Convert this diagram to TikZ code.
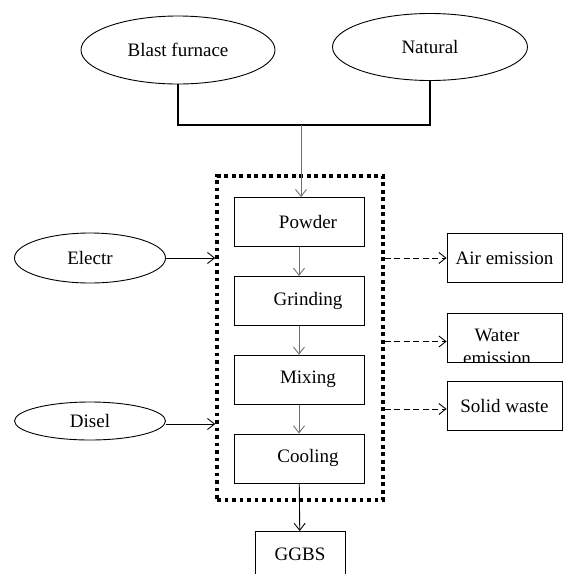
\documentclass[tikz,border=0pt]{standalone}
\usepackage{fontspec}
\setmainfont{Liberation Serif}
\usepackage{tikz}
\usetikzlibrary{shapes,arrows,arrows.meta,positioning,calc}
\definecolor{linkgray}{RGB}{110,110,110}
\begin{document}
\begin{tikzpicture}[x=1pt,y=-1pt,font=\fontsize{19}{23}\selectfont,node distance=29pt,
src/.style={draw,ellipse,inner sep=0pt,line width=0.9pt},
procbox/.style={draw,line width=0.8pt,minimum width=130pt,minimum height=49pt,inner sep=0pt,execute at begin node={\hspace*{18pt}}},
outbox/.style={draw,line width=0.8pt,minimum width=115pt,minimum height=49pt,inner sep=0pt},
frame/.style={draw,line width=3.6pt,dash pattern=on 3.6pt off 3.9pt,inner sep=0pt,minimum width=166pt,minimum height=324pt},
feed/.style={line width=1.8pt},
arr/.style={-{Straight Barb[length=7pt,width=11pt]},line width=0.9pt},
garr/.style={arr,draw=linkgray},
darr/.style={arr,dash pattern=on 6pt off 3.5pt}]
\useasboundingbox (0,0) rectangle (566,574);
\node[src,minimum width=194pt,minimum height=68pt](bf) at (178,50){Blast furnace}; \node[src,minimum width=195pt,minimum height=67pt](nat) at (430,47){Natural};
\node[src,minimum width=151pt,minimum height=50pt](el) at (90,258){Electr}; \node[src,minimum width=151pt,minimum height=38pt](di) at (90,421){Disel};
\node[frame](frame) at (300,338){};
\node[procbox](powder) at (299,222){Powder}; \node[procbox,below=of powder](grind){Grinding};
\node[procbox,below=of grind](mix){Mixing}; \node[procbox,below=of mix](cool){Cooling};
\node[outbox](air) at (504.5,258){Air emission}; \node[outbox](water) at (504.5,337.5){}; \node[outbox](solid) at (504.5,406){Solid waste};
\node[draw,line width=0.8pt,minimum width=90pt,minimum height=46pt,inner sep=0pt,anchor=north](ggbs) at (300,531){GGBS};
\begin{scope}\clip (water.south west) rectangle (water.north east); \node[align=center,inner sep=0pt](watertxt) at (497,347){Water\\emission};\end{scope}
\coordinate (join) at (301,125);
\draw[feed](bf.south)|-(join)-|(nat.south); \draw[garr](join)--(join|-powder.north);
\draw[garr](powder)--(grind); \draw[garr](grind)--(mix); \draw[garr](mix)--(cool); \draw[arr](cool)--(ggbs);
\draw[arr](el.east)--(el.east-|frame.west); \draw[arr]([yshift=-3pt]di.east)--([yshift=-3pt]di.east-|frame.west);
\draw[darr](frame.east|-air.west)--(air.west); \draw[darr]([yshift=-4pt]frame.east|-water.west)--([yshift=-4pt]water.west); \draw[darr]([yshift=-3pt]frame.east|-solid.west)--([yshift=-3pt]solid.west);
\end{tikzpicture}
\end{document}
